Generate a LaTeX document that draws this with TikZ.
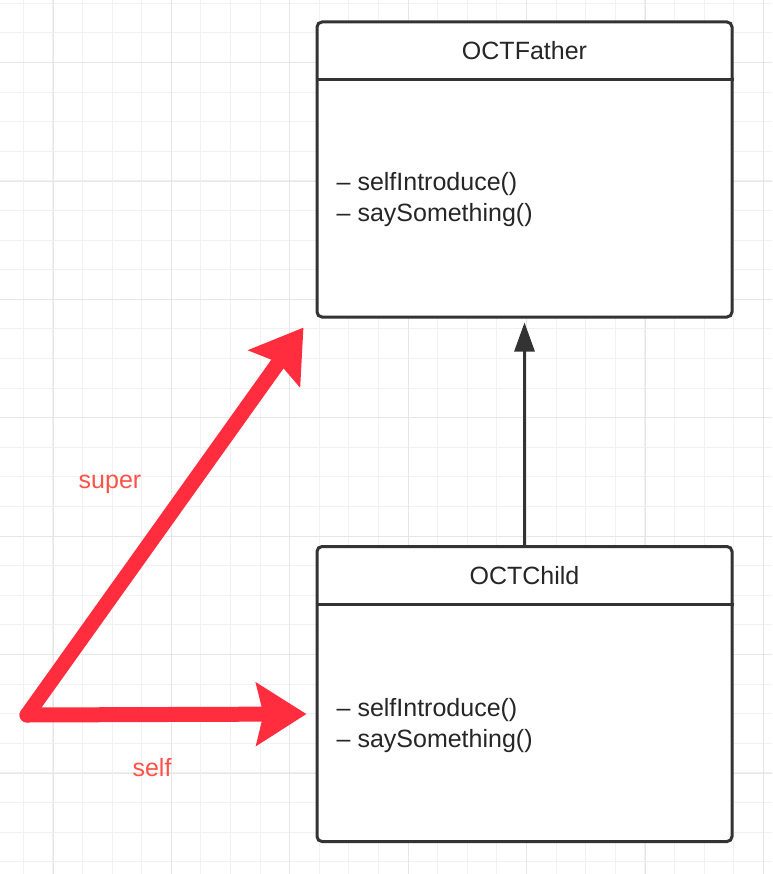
\documentclass[tikz,border=0pt]{standalone}
\usepackage{fontspec}
\setmainfont{Liberation Sans}
\usetikzlibrary{arrows.meta,positioning}
\definecolor{umlgray}{HTML}{333333}
\definecolor{umltext}{HTML}{262626}
\definecolor{arrowred}{RGB}{255,45,62}
\definecolor{labelred}{RGB}{255,82,72}
\definecolor{gridminor}{RGB}{241,241,241}
\definecolor{gridmajor}{RGB}{230,230,230}

\begin{document}
\begin{tikzpicture}[x=1pt,y=-1pt,
  classbox/.style={draw=umlgray,line width=3pt,rounded corners=5pt,fill=white,
    minimum width=415pt,minimum height=295pt,inner sep=0pt},
  classline/.style={draw=umlgray,line width=3pt},
  classtitle/.style={anchor=base,text=umltext,font=\fontsize{25}{30}\selectfont},
  method/.style={anchor=base west,text=umltext,inner sep=0pt,font=\fontsize{25}{30}\selectfont},
  inherit/.style={draw=umlgray,line width=3pt,-{Triangle[length=29pt,width=20pt]}},
  callarrow/.style={draw=arrowred,line width=15pt,line cap=round,
    -{Stealth[length=50pt,width=62pt,inset=7pt]}},
  calllabel/.style={anchor=base,text=labelred,font=\fontsize{25}{30}\selectfont}]
\useasboundingbox (0,0) rectangle (772,874);
% grid
\foreach \i in {0,...,25} \draw[gridminor,line width=1pt] ({23.3+29.6*\i},0) -- ++(0,874);
\foreach \i in {0,...,29} \draw[gridminor,line width=1pt] (0,{3.3+29.6*\i}) -- ++(772,0);
\foreach \i in {0,...,6} \draw[gridmajor,line width=1pt] ({53+118.4*\i},0) -- ++(0,874);
\foreach \i in {1,...,7} \draw[gridmajor,line width=1pt] (0,{-55.7+118.4*\i}) -- ++(772,0);

% classes
\node[classbox] (father) at (524.5,169.5) {};
\draw[classline] ([yshift=-59pt]father.north west) -- ([yshift=-59pt]father.north east);
\node[classtitle] (fathertitle) at ([yshift=-39pt]father.north) {OCTFather};
\node[method] (fatherm1) at ([xshift=21pt,yshift=-170pt]father.north west) {– selfIntroduce()};
\node[method] (fatherm2) at ([xshift=21pt,yshift=-201pt]father.north west) {– saySomething()};

\node[classbox] (child) at (524.5,694) {};
\draw[classline] ([yshift=-59pt]child.north west) -- ([yshift=-59pt]child.north east);
\node[classtitle] (childtitle) at ([yshift=-39pt]child.north) {OCTChild};
\node[method] (childm1) at ([xshift=21pt,yshift=-171pt]child.north west) {– selfIntroduce()};
\node[method] (childm2) at ([xshift=21pt,yshift=-202pt]child.north west) {– saySomething()};

\draw[inherit] (child.north) -- ([yshift=-4pt]father.south);

% super / self
\coordinate (caller) at (27,715);
\coordinate (supertip) at ([shift={(-12,9)}]father.south west);
\coordinate (selftip) at ([shift={(-9,20)}]child.west);
\draw[callarrow] (caller) -- (supertip);
\draw[callarrow] (caller) -- (selftip);
\node[calllabel] (superlbl) at (110,488) {super};
\node[calllabel] (selflbl) at (152,776) {self};
\end{tikzpicture}
\end{document}
